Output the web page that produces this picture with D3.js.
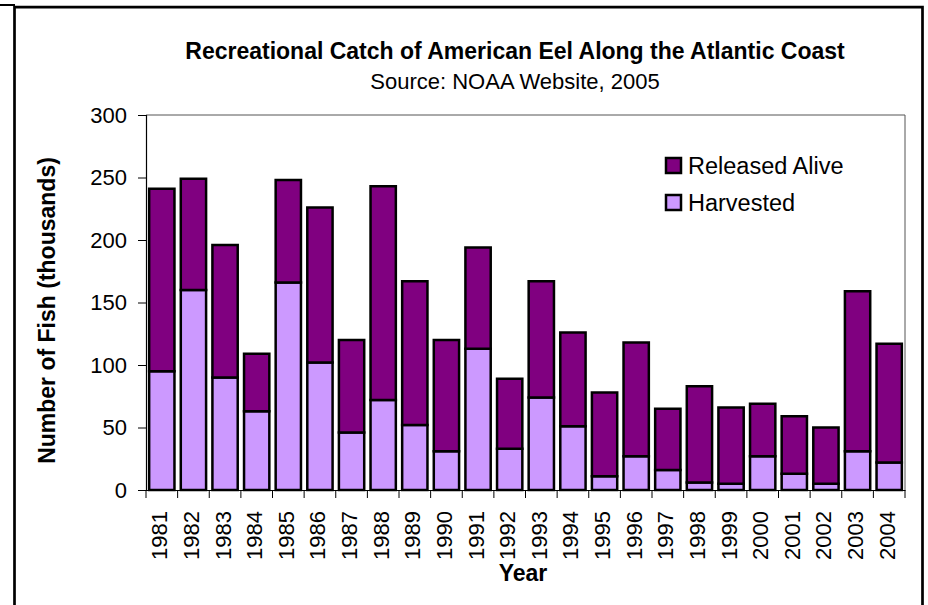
<!DOCTYPE html>
<html><head><meta charset="utf-8">
<script src="https://cdn.jsdelivr.net/npm/d3@7"></script>
<style>body{margin:0;background:#fff}svg{display:block;font-family:"Liberation Sans",Arial,sans-serif}</style>
</head><body><svg id="c" width="928" height="605"></svg>
<script>
const years = ["1981","1982","1983","1984","1985","1986","1987","1988","1989","1990","1991","1992","1993","1994","1995","1996","1997","1998","1999","2000","2001","2002","2003","2004"];
const harvested = [95,160,90,63,166,102,46,72,52,31,113,33,74,51,11,27,16,6,5,27,13,5,31,22];
const releasedAlive = [146,89,106,46,82,124,74,171,115,89,81,56,93,75,67,91,49,77,61,42,46,45,128,95];
const yTicks = [0,50,100,150,200,250,300];
const seriesNames = ["Harvested","Released Alive"];
const colors = {"Harvested":"#CC99FF","Released Alive":"#800080"};

const svg = d3.select("#c");
const L=146, R=905, T=115, B=490;
const FF = "Liberation Sans, Arial, sans-serif";

// outer frame
svg.append("line").attr("x1",0).attr("x2",15).attr("y1",5).attr("y2",5).attr("stroke","#000").attr("stroke-width",2);
svg.append("path").attr("d","M14.5,605V7.2H922.5V605").attr("fill","none").attr("stroke","#000").attr("stroke-width",2.7);

const x = d3.scaleBand().domain(years).range([L,R]).paddingInner(0.2).paddingOuter(0.1);
const y = d3.scaleLinear().domain([0,300]).range([B,T]);

// plot area border
svg.append("path").attr("d",`M${L},${T}H${R}V${B}`).attr("fill","none").attr("stroke","#555").attr("stroke-width",1);

const rows = years.map((yr,i)=>({year:yr,"Harvested":harvested[i],"Released Alive":releasedAlive[i]}));
const stacked = d3.stack().keys(seriesNames)(rows);

svg.append("g").selectAll("g").data(stacked).join("g")
  .attr("fill",d=>colors[d.key])
  .selectAll("rect").data(d=>d).join("rect")
  .attr("x",d=>x(d.data.year)).attr("width",x.bandwidth())
  .attr("y",d=>y(d[1])).attr("height",d=>y(d[0])-y(d[1]))
  .attr("stroke","#000").attr("stroke-width",2.5);

// y axis
const ya = svg.append("g").attr("transform",`translate(${L},0)`)
  .call(d3.axisLeft(y).tickValues(yTicks).tickSize(8).tickPadding(11).tickFormat(d3.format("d")));
ya.select(".domain").attr("stroke","#000").attr("stroke-width",1.2);
ya.selectAll(".tick line").attr("stroke","#000");
ya.selectAll("text").attr("font-size",22).attr("font-family",FF).attr("fill","#000");

// x axis
const xa = svg.append("g").attr("transform",`translate(0,${B})`)
  .call(d3.axisBottom(x).tickSize(0).tickPadding(0));
xa.select(".domain").attr("stroke","#000").attr("stroke-width",1.2);
xa.selectAll("text").attr("font-size",22).attr("font-family",FF).attr("fill","#000")
  .attr("text-anchor","end").attr("dy",null).attr("y",0)
  .attr("transform","translate(5.5,21) rotate(-90)");
// boundary ticks
const bounds = years.map(d=>x(d)-x.step()*x.paddingInner()/2).concat([R]);
svg.append("g").selectAll("line").data(bounds).join("line")
  .attr("x1",d=>d).attr("x2",d=>d).attr("y1",B).attr("y2",B+8).attr("stroke","#000").attr("stroke-width",1);

// titles
svg.append("text").attr("x",515).attr("y",59).attr("text-anchor","middle").attr("font-size",23).attr("font-weight","bold")
  .text("Recreational Catch of American Eel Along the Atlantic Coast");
svg.append("text").attr("x",515).attr("y",89).attr("text-anchor","middle").attr("font-size",22)
  .text("Source: NOAA Website, 2005");
svg.append("text").attr("transform",`translate(55,${(T+B)/2+8}) rotate(-90)`).attr("text-anchor","middle").attr("font-size",23).attr("font-weight","bold")
  .text("Number of Fish (thousands)");
svg.append("text").attr("x",523).attr("y",581).attr("text-anchor","middle").attr("font-size",23).attr("font-weight","bold").text("Year");

// legend
const legendItems = ["Released Alive","Harvested"];
const lg = svg.append("g");
legendItems.forEach((k,i)=>{
  const yy = 158 + i*37;
  lg.append("rect").attr("x",666).attr("y",yy).attr("width",15).attr("height",15).attr("fill",colors[k]).attr("stroke","#000").attr("stroke-width",2.5);
  lg.append("text").attr("x",688).attr("y",yy+16).attr("font-size",23.5).text(k);
});
</script></body></html>
